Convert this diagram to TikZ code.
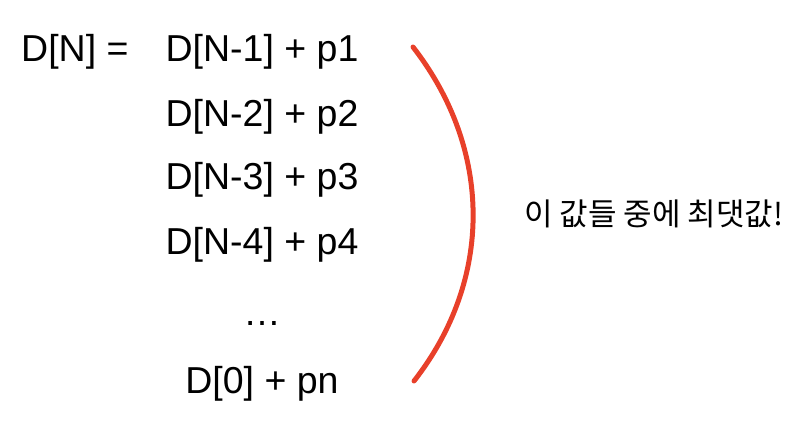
\documentclass[tikz,border=0pt]{standalone}
\usepackage{fontspec}
\setmainfont{Liberation Sans}
\newfontfamily\kofont{Noto Sans CJK KR}
\definecolor{arcred}{HTML}{E8402A}
\begin{document}
\begin{tikzpicture}[x=1pt,y=-1pt,
  term/.style={anchor=base,inner sep=0pt,font=\fontsize{37.5}{42}\selectfont},
  note/.style={anchor=center,inner sep=0pt,font=\kofont\fontsize{31}{36}\selectfont}]
\useasboundingbox (0,0) rectangle (810,438);
\node[term,anchor=base west] (lhs) at (21,62) {D[N] =};
\node[term] (r1) at (262,62) {D[N-1] + p1};
\node[term] (r2) at (262,127) {D[N-2] + p2};
\node[term] (r3) at (262,190) {D[N-3] + p3};
\node[term] (r4) at (262,254) {D[N-4] + p4};
\node[term] (dots) at (262,325) {…};
\node[term] (r5) at (262,393) {D[0] + pn};
\coordinate (atop) at (413,47);
\coordinate (abot) at (414,381);
\draw[arcred,line width=5pt,line cap=round] (atop) .. controls (493,150) and (493,280) .. (abot);
\node[note] (msg) at (654,214) {이 값들 중에 최댓값!};
\end{tikzpicture}
\end{document}
